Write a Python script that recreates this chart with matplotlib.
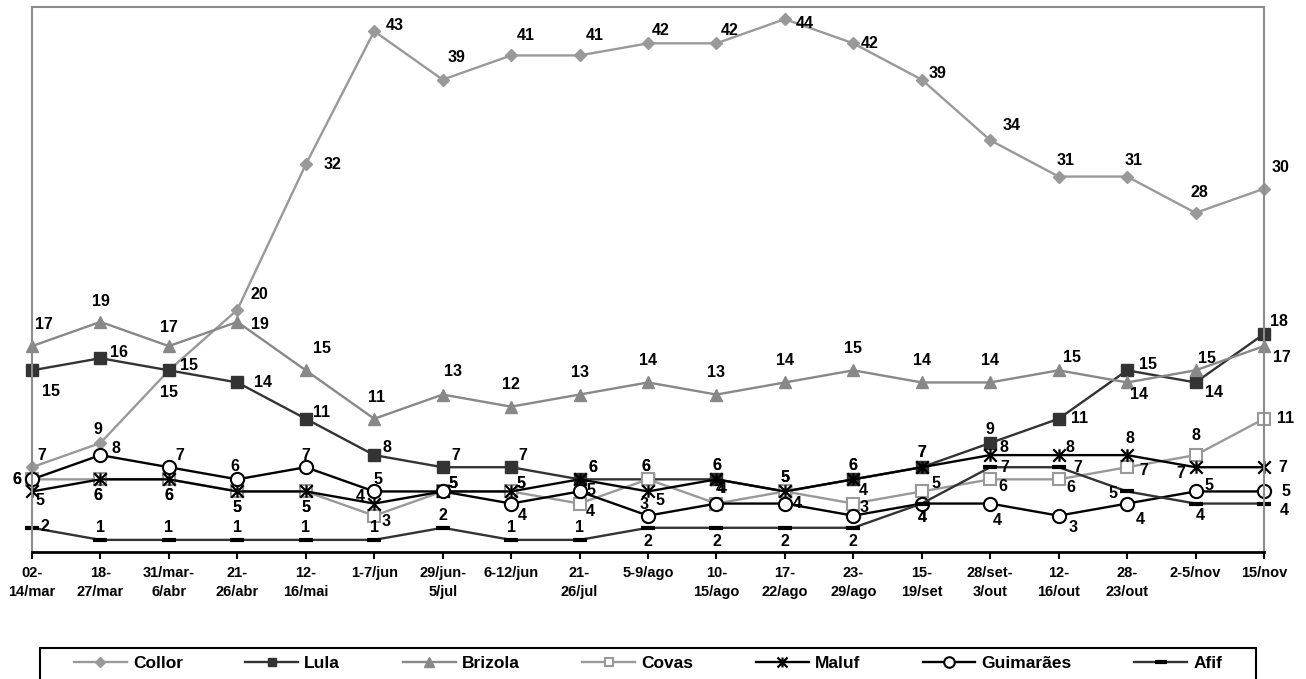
import matplotlib
matplotlib.use('Agg')
import matplotlib.pyplot as plt
from matplotlib.patches import Rectangle
from matplotlib.path import Path

plt.rcParams['font.family'] = ['Liberation Sans', 'DejaVu Sans']
plt.rcParams['font.weight'] = 'bold'

periods = ['02-\n14/mar', '18-\n27/mar', '31/mar-\n6/abr', '21-\n26/abr', '12-\n16/mai',
           '1-7/jun', '29/jun-\n5/jul', '6-12/jun', '21-\n26/jul', '5-9/ago',
           '10-\n15/ago', '17-\n22/ago', '23-\n29/ago', '15-\n19/set', '28/set-\n3/out',
           '12-\n16/out', '28-\n23/out', '2-5/nov', '15/nov']

collor = [7, 9, 15, 20, 32, 43, 39, 41, 41, 42, 42, 44, 42, 39, 34, 31, 31, 28, 30]
lula = [15, 16, 15, 14, 11, 8, 7, 7, 6, 6, 6, 5, 6, 7, 9, 11, 15, 14, 18]
brizola = [17, 19, 17, 19, 15, 11, 13, 12, 13, 14, 13, 14, 15, 14, 14, 15, 14, 15, 17]
covas = [6, 6, 6, 5, 5, 3, 5, 5, 4, 6, 4, 5, 4, 5, 6, 6, 7, 8, 11]
maluf = [5, 6, 6, 5, 5, 4, 5, 5, 6, 5, 6, 5, 6, 7, 8, 8, 8, 7, 7]
guimaraes = [6, 8, 7, 6, 7, 5, 5, 4, 5, 3, 4, 4, 3, 4, 4, 3, 4, 5, 5]
afif = [2, 1, 1, 1, 1, 1, 2, 1, 1, 2, 2, 2, 2, 4, 7, 7, 5, 4, 4]

# label offsets in pixels (dx, dy up)
off_collor = [(10, 12), (-3, 13), (0, -22), (22, 15), (27, 0), (21, 6), (14, 22), (15, 20), (15, 20),
              (13, 13), (13, 13), (20, -4), (16, 0), (16, 6), (21, 15), (7, 16), (6, 16), (4, 20), (17, 21)]
off_lula = [(19, -21), (19, 6), (20, 5), (26, 0), (16, 6), (13, 8), (13, 12), (12, 12), (13, 12),
            (-2, 13), (0, 14), (0, 14), (0, 14), (0, 15), (0, 13), (21, 0), (21, 6), (18, -10), (15, 12)]
off_brizola = [(12, 22), (0, 20), (0, 19), (23, -3), (16, 22), (2, 21), (10, 23), (0, 22), (0, 22),
               (0, 22), (0, 22), (0, 22), (0, 22), (0, 22), (0, 22), (13, 13), (12, -12), (11, 12), (18, -11)]
off_covas = [(-15, 0), (-3, -16), (0, -16), (0, -16), (0, -16), (12, -6), (10, 8), (10, 8), (11, -8),
             (-2, 13), (6, 15), (0, 14), (10, 13), (14, 8), (13, -7), (12, -8), (17, -3), (0, 20), (22, 0)]
off_maluf = [(8, -9), (-3, -16), (0, -16), (0, -16), (0, -16), (-14, 7), (10, 8), (10, 8), (13, 12),
             (12, -9), (0, 14), (0, 14), (0, 14), (0, 15), (14, 8), (11, 8), (3, 17), (-15, -6), (19, 0)]
off_guimaraes = [(-15, 0), (15, 7), (11, 12), (-2, 13), (0, 12), (4, 12), (10, 8), (11, -12), (11, 1),
                 (-4, 11), (4, 15), (12, 0), (11, 8), (0, -14), (7, -17), (14, -12), (13, -16), (13, 6), (22, 0)]
off_afif = [(13, 1), (0, 12), (0, 12), (0, 12), (0, 12), (0, 12), (0, 12), (0, 12), (0, 12),
            (0, -14), (0, -14), (0, -14), (0, -14), (0, -14), (15, 0), (19, 0), (-14, -2), (5, -12), (20, -7)]

# excel-like star marker: an X with a vertical bar
star = Path([(-1, -1), (1, 1), (-1, 1), (1, -1), (0, -1), (0, 1)],
            [Path.MOVETO, Path.LINETO, Path.MOVETO, Path.LINETO, Path.MOVETO, Path.LINETO])

series = [
    ('Collor', collor, off_collor, dict(color='#999999', marker='D', ms=6.5, mfc='#999999', mec='#999999')),
    ('Lula', lula, off_lula, dict(color='#333333', marker='s', ms=8, mfc='#333333', mec='#333333')),
    ('Brizola', brizola, off_brizola, dict(color='#888888', marker='^', ms=9, mfc='#888888', mec='#888888')),
    ('Covas', covas, off_covas, dict(color='#999999', marker='s', ms=8, mfc='white', mec='#999999', mew=1.5)),
    ('Maluf', maluf, off_maluf, dict(color='black', marker=star, ms=9, mfc='none', mec='black', mew=1.6)),
    ('Guimarães', guimaraes, off_guimaraes, dict(color='black', marker='o', ms=9.5, mfc='white', mec='black', mew=1.5)),
    ('Afif', afif, off_afif, dict(color='#333333', marker='_', ms=10, mec='black', mew=3)),
]

fig = plt.figure(figsize=(13.06, 6.79), dpi=100)
ax = fig.add_axes([32 / 1306, 1 - 552 / 679, (1264 - 32) / 1306, 545 / 679])

x = list(range(len(periods)))
for name, vals, offs, style in series:
    ax.plot(x, vals, lw=1.7, label=name, clip_on=False, **style)
    for xi, v, (dx, dy) in zip(x, vals, offs):
        ax.annotate(str(v), (xi, v), xytext=(dx, dy), textcoords='offset pixels',
                    ha='center', va='center', fontsize=11.5, fontweight='bold', color='black')

ax.set_xlim(0, len(periods) - 1)
ax.set_ylim(0, 45)
ax.set_yticks([])
ax.set_xticks(x)
ax.set_xticklabels(periods, fontsize=10.5, fontweight='bold', linespacing=1.45)
ax.tick_params(axis='x', direction='out', length=5, width=1.5, pad=5)
for s in ['left', 'top', 'right']:
    ax.spines[s].set_color('#8c8c8c')
    ax.spines[s].set_linewidth(1.5)
ax.spines['bottom'].set_color('black')
ax.spines['bottom'].set_linewidth(2)

# legend box drawn separately, entries centred inside it
fig.patches.append(Rectangle((40 / 1306, -4 / 679), 1216 / 1306, 35 / 679, transform=fig.transFigure,
                             fill=False, edgecolor='black', linewidth=1.5))
leg = fig.legend(loc='center', bbox_to_anchor=(648 / 1306, 1 - 663 / 679), ncol=7,
                 handlelength=3.05, handletextpad=0.35, columnspacing=3.6, frameon=False,
                 markerscale=0.8, borderaxespad=0, borderpad=0, prop={'weight': 'bold', 'size': 12.5})

fig.savefig('out.png', dpi=100)
